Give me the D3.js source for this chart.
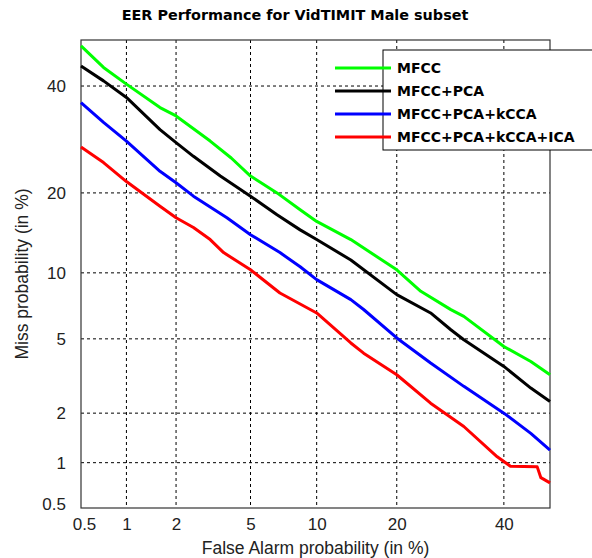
<!DOCTYPE html>
<html>
<head>
<meta charset="utf-8">
<script src="https://cdn.jsdelivr.net/npm/d3@7"></script>
<style>
  body { margin: 0; background: #fff; }
  svg { display: block; }
</style>
</head>
<body>
<div id="chart"></div>
<script>
// tick values (percent)
const ticks = [0.5, 1, 2, 5, 10, 20, 40]

// series: false alarm % / miss %
const mfccFA = [0.5, 0.71, 1, 1.61, 2, 3.1, 4, 5, 6.69, 8.5, 10, 13.7, 20, 23.9, 29.3, 31.8, 40, 45.8, 50]
const mfccMiss = [48.7, 44.0, 40.4, 35.5, 33.8, 28.9, 25.8, 22.7, 20.0, 17.5, 15.9, 13.6, 10.3, 8.33, 6.89, 6.41, 4.58, 3.84, 3.27]

const pcaFA = [0.5, 0.71, 1, 1.61, 2, 2.51, 3.51, 5, 6.69, 8.5, 10, 13.7, 20, 25.6, 29.3, 31.8, 40, 45.8, 50]
const pcaMiss = [44.3, 41.1, 37.6, 31.1, 28.6, 26.1, 22.7, 19.5, 16.8, 14.8, 13.6, 11.3, 8.05, 6.65, 5.54, 4.95, 3.62, 2.77, 2.33]

const kccaFA = [0.5, 0.71, 1, 1.61, 2, 2.51, 3.8, 5, 6.9, 8.5, 10, 13.7, 15.3, 20, 25.6, 31.8, 40, 45.8, 50]
const kccaMiss = [36.5, 32.5, 28.9, 23.5, 21.6, 19.5, 16.4, 14.2, 12.1, 10.6, 9.36, 7.65, 6.9, 5.05, 3.77, 2.83, 2.0, 1.52, 1.2]

const icaFA = [0.5, 0.71, 1, 1.61, 2, 2.51, 3.1, 3.65, 5, 6.9, 10, 13.7, 15.3, 20, 25.6, 31.8, 38.6, 41.4, 47.2, 48, 50]
const icaMiss = [27.8, 25.0, 21.8, 18.0, 16.4, 15.1, 13.6, 12.1, 10.3, 8.19, 6.65, 4.77, 4.24, 3.27, 2.28, 1.67, 1.09, 0.95, 0.94, 0.8, 0.74]

const seriesNames = ['MFCC', 'MFCC+PCA', 'MFCC+PCA+kCCA', 'MFCC+PCA+kCCA+ICA']
const seriesColors = ['#00ff00', '#000000', '#0000ff', '#ff0000']

const series = [
  [mfccFA, mfccMiss],
  [pcaFA, pcaMiss],
  [kccaFA, kccaMiss],
  [icaFA, icaMiss]
].map(([fa, miss], i) => ({
  name: seriesNames[i],
  color: seriesColors[i],
  values: fa.map((f, j) => ({ fa: f, miss: miss[j] }))
}))

/**
 * inverse normal cdf (Acklam)
 */
function probit(p) {
  const a = [-3.969683028665376e+01, 2.209460984245205e+02, -2.759285104469687e+02, 1.383577518672690e+02, -3.066479806614716e+01, 2.506628277459239e+00]
  const b = [-5.447609879822406e+01, 1.615858368580409e+02, -1.556989798598866e+02, 6.680131188771972e+01, -1.328068155288572e+01]
  const c = [-7.784894002430293e-03, -3.223964580411365e-01, -2.400758277161838e+00, -2.549732539343734e+00, 4.374664141464968e+00, 2.938163982698783e+00]
  const d = [7.784695709041462e-03, 3.224671290700398e-01, 2.445134137142996e+00, 3.754408661907416e+00]
  const pl = 0.02425
  let q, r
  if (p < pl) {
    q = Math.sqrt(-2 * Math.log(p))
    return (((((c[0] * q + c[1]) * q + c[2]) * q + c[3]) * q + c[4]) * q + c[5]) /
      ((((d[0] * q + d[1]) * q + d[2]) * q + d[3]) * q + 1)
  }
  if (p <= 1 - pl) {
    q = p - 0.5
    r = q * q
    return (((((a[0] * r + a[1]) * r + a[2]) * r + a[3]) * r + a[4]) * r + a[5]) * q /
      (((((b[0] * r + b[1]) * r + b[2]) * r + b[3]) * r + b[4]) * r + 1)
  }
  q = Math.sqrt(-2 * Math.log(1 - p))
  return -(((((c[0] * q + c[1]) * q + c[2]) * q + c[3]) * q + c[4]) * q + c[5]) /
    ((((d[0] * q + d[1]) * q + d[2]) * q + d[3]) * q + 1)
}

const width = 592
const height = 558
const margin = { top: 40, right: 42, bottom: 50, left: 81 }
const innerW = width - margin.left - margin.right
const innerH = height - margin.top - margin.bottom

// percent -> normal deviate, then linear
const xLin = d3.scaleLinear().domain([probit(0.005), probit(0.5)]).range([0, innerW])
const yLin = d3.scaleLinear().domain([probit(0.005), probit(0.5)]).range([innerH, 0])
const x = v => xLin(probit(v / 100))
const y = v => yLin(probit(v / 100))

const svg = d3.select('#chart')
  .append('svg')
  .attr('width', width)
  .attr('height', height)

const g = svg.append('g').attr('transform', `translate(${margin.left},${margin.top})`)

// grid
g.append('g').selectAll('line.vgrid')
  .data(ticks.slice(1))
  .join('line')
  .attr('x1', d => x(d)).attr('x2', d => x(d))
  .attr('y1', 0).attr('y2', innerH)
  .attr('stroke', '#000').attr('stroke-width', 1)
  .attr('stroke-dasharray', '3,3')

g.append('g').selectAll('line.hgrid')
  .data(ticks.slice(1))
  .join('line')
  .attr('x1', 0).attr('x2', innerW)
  .attr('y1', d => y(d)).attr('y2', d => y(d))
  .attr('stroke', '#000').attr('stroke-width', 1)
  .attr('stroke-dasharray', '3,3')

// axes
const xAxis = d3.axisBottom(xLin)
  .tickValues(ticks.map(t => probit(t / 100)))
  .tickFormat((d, i) => ticks[i])
  .tickSize(0).tickPadding(10)
const yAxis = d3.axisLeft(yLin)
  .tickValues(ticks.map(t => probit(t / 100)))
  .tickFormat((d, i) => ticks[i])
  .tickSize(0).tickPadding(15)

const gx = g.append('g').attr('transform', `translate(0,${innerH})`).call(xAxis)
const gy = g.append('g').call(yAxis)
;[gx, gy].forEach(ax => {
  ax.select('.domain').remove()
  ax.selectAll('text')
    .attr('font-family', '"Liberation Sans", Arial, sans-serif')
    .attr('font-size', 17)
    .attr('fill', '#222')
})
// 0.5 labels sit near the corner
gx.selectAll('.tick').filter((d, i) => i === 0).select('text').attr('dx', 3)
gy.selectAll('.tick').filter((d, i) => i === 0).select('text').attr('dy', '0.1em')

// frame
g.append('rect')
  .attr('width', innerW).attr('height', innerH)
  .attr('fill', 'none').attr('stroke', '#333').attr('stroke-width', 1.2)

// curves
const line = d3.line()
  .x(d => x(d.fa))
  .y(d => y(d.miss))

g.append('g').selectAll('path')
  .data(series)
  .join('path')
  .attr('d', d => line(d.values))
  .attr('fill', 'none')
  .attr('stroke', d => d.color)
  .attr('stroke-width', 3)
  .attr('stroke-linejoin', 'round')

// title & labels
svg.append('text')
  .attr('x', 295).attr('y', 20)
  .attr('text-anchor', 'middle')
  .attr('font-family', '"DejaVu Sans", Verdana, sans-serif')
  .attr('font-weight', 'bold')
  .attr('font-size', 14.4)
  .text('EER Performance for VidTIMIT Male subset')

svg.append('text')
  .attr('x', margin.left + innerW / 2).attr('y', 554)
  .attr('text-anchor', 'middle')
  .attr('font-family', '"Liberation Sans", Arial, sans-serif')
  .attr('font-size', 17.5)
  .attr('fill', '#222')
  .text('False Alarm probability (in %)')

svg.append('text')
  .attr('transform', `translate(28,${margin.top + innerH / 2}) rotate(-90)`)
  .attr('text-anchor', 'middle')
  .attr('font-family', '"Liberation Sans", Arial, sans-serif')
  .attr('font-size', 17.5)
  .attr('fill', '#222')
  .text('Miss probability (in %)')

// legend
const legend = svg.append('g').attr('transform', 'translate(383,50)')
legend.append('rect')
  .attr('width', 230).attr('height', 100)
  .attr('fill', '#fff').attr('stroke', '#000').attr('stroke-width', 1)

const item = legend.selectAll('g.item')
  .data(series)
  .join('g')
  .attr('class', 'item')
  .attr('transform', (d, i) => `translate(0,${18 + i * 23})`)

item.append('line')
  .attr('x1', -48).attr('x2', 8)
  .attr('stroke', d => d.color).attr('stroke-width', 3)

item.append('text')
  .attr('x', 14).attr('y', 0).attr('dy', '0.36em')
  .attr('font-family', '"DejaVu Sans", Verdana, sans-serif')
  .attr('font-weight', 'bold')
  .attr('font-size', 14)
  .text(d => d.name)
</script>
</body>
</html>
